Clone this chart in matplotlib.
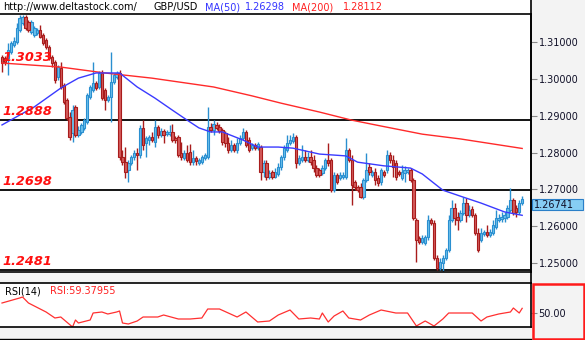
import matplotlib
matplotlib.use("Agg")
import matplotlib.pyplot as plt
import matplotlib.transforms as mtransforms
import numpy as np
from matplotlib.lines import Line2D
from matplotlib.patches import Rectangle

# GBP/USD candles, one per bar
opens = [
    1.3059, 1.3057, 1.3057, 1.3073, 1.3092, 1.3100, 1.3133, 1.3152, 1.3168, 1.3154,
    1.3127, 1.3119, 1.3124, 1.3133, 1.3119, 1.3105, 1.3086, 1.3059, 1.3046, 1.3005,
    1.3029, 1.2983, 1.2943, 1.2896, 1.2853, 1.2924, 1.2848, 1.2856, 1.2867, 1.2883,
    1.2951, 1.2970, 1.2989, 1.2978, 1.3016, 1.2970, 1.2943, 1.2951, 1.2991, 1.3005,
    1.3016, 1.2788, 1.2774, 1.2753, 1.2772, 1.2788, 1.2799, 1.2793, 1.2867, 1.2826,
    1.2834, 1.2842, 1.2829, 1.2869, 1.2848, 1.2858, 1.2850, 1.2850, 1.2856, 1.2839,
    1.2842, 1.2799, 1.2785, 1.2799, 1.2801, 1.2774, 1.2785, 1.2772, 1.2774, 1.2785,
    1.2788, 1.2869, 1.2861, 1.2875, 1.2869, 1.2861, 1.2853, 1.2826, 1.2807, 1.2821,
    1.2807, 1.2826, 1.2839, 1.2856, 1.2834, 1.2812, 1.2821, 1.2812, 1.2815, 1.2747,
    1.2772, 1.2734, 1.2747, 1.2734, 1.2742, 1.2761, 1.2788, 1.2807, 1.2826, 1.2831,
    1.2842, 1.2772, 1.2780, 1.2788, 1.2780, 1.2788, 1.2780, 1.2758, 1.2753, 1.2745,
    1.2758, 1.2780, 1.2780, 1.2698, 1.2739, 1.2731, 1.2734, 1.2734, 1.2807, 1.2780,
    1.2720, 1.2707, 1.2707, 1.2679, 1.2725, 1.2761, 1.2739, 1.2747, 1.2731, 1.2720,
    1.2747, 1.2753, 1.2793, 1.2780, 1.2772, 1.2747, 1.2731, 1.2745, 1.2747, 1.2753,
    1.2725, 1.2617, 1.2568, 1.2557, 1.2555, 1.2571, 1.2617, 1.2609, 1.2514, 1.2487,
    1.2500, 1.2514, 1.2536, 1.2617, 1.2650, 1.2625, 1.2617, 1.2636, 1.2663, 1.2630,
    1.2647, 1.2630, 1.2582, 1.2563, 1.2579, 1.2584, 1.2576, 1.2582, 1.2598, 1.2617,
    1.2620, 1.2622, 1.2625, 1.2644, 1.2671, 1.2650, 1.2639, 1.2663,
]
closes = [
    1.3043, 1.3046, 1.3078, 1.3097, 1.3103, 1.3138, 1.3165, 1.3168, 1.3138, 1.3133,
    1.3154, 1.3138, 1.3133, 1.3114, 1.3097, 1.3086, 1.3057, 1.3043, 1.2997, 1.3032,
    1.2978, 1.2937, 1.2894, 1.2842, 1.2915, 1.2848, 1.2861, 1.2875, 1.2888, 1.2956,
    1.2978, 1.2989, 1.2975, 1.3016, 1.2948, 1.2943, 1.2951, 1.2991, 1.3010, 1.3016,
    1.2788, 1.2774, 1.2747, 1.2772, 1.2788, 1.2799, 1.2793, 1.2867, 1.2821, 1.2839,
    1.2842, 1.2834, 1.2869, 1.2848, 1.2858, 1.2848, 1.2856, 1.2856, 1.2834, 1.2834,
    1.2793, 1.2788, 1.2799, 1.2780, 1.2774, 1.2785, 1.2777, 1.2780, 1.2788, 1.2793,
    1.2869, 1.2861, 1.2877, 1.2867, 1.2858, 1.2829, 1.2826, 1.2807, 1.2821, 1.2807,
    1.2826, 1.2839, 1.2856, 1.2821, 1.2807, 1.2821, 1.2812, 1.2823, 1.2747, 1.2772,
    1.2734, 1.2745, 1.2734, 1.2747, 1.2761, 1.2788, 1.2812, 1.2826, 1.2834, 1.2842,
    1.2772, 1.2785, 1.2788, 1.2780, 1.2788, 1.2774, 1.2758, 1.2739, 1.2739, 1.2758,
    1.2780, 1.2772, 1.2698, 1.2739, 1.2720, 1.2739, 1.2739, 1.2807, 1.2780, 1.2712,
    1.2707, 1.2698, 1.2679, 1.2725, 1.2753, 1.2747, 1.2747, 1.2725, 1.2717, 1.2753,
    1.2739, 1.2793, 1.2780, 1.2761, 1.2734, 1.2742, 1.2747, 1.2753, 1.2753, 1.2725,
    1.2622, 1.2563, 1.2557, 1.2568, 1.2571, 1.2617, 1.2609, 1.2514, 1.2487, 1.2503,
    1.2514, 1.2536, 1.2617, 1.2650, 1.2622, 1.2617, 1.2636, 1.2663, 1.2630, 1.2644,
    1.2630, 1.2582, 1.2536, 1.2582, 1.2584, 1.2576, 1.2584, 1.2603, 1.2622, 1.2622,
    1.2625, 1.2630, 1.2650, 1.2671, 1.2636, 1.2639, 1.2663, 1.26741,
]
highs = [
    1.3065, 1.3062, 1.3097, 1.3103, 1.3114, 1.3152, 1.3173, 1.3173, 1.3173, 1.3160,
    1.3160, 1.3143, 1.3138, 1.3146, 1.3124, 1.3111, 1.3092, 1.3065, 1.3051, 1.3038,
    1.3046, 1.2989, 1.2948, 1.2910, 1.2929, 1.2929, 1.2872, 1.2880, 1.2894, 1.2962,
    1.2983, 1.3046, 1.2994, 1.3021, 1.3024, 1.2975, 1.2956, 1.3073, 1.3016, 1.3021,
    1.3024, 1.2807, 1.2815, 1.2780, 1.2793, 1.2807, 1.2812, 1.2875, 1.2888, 1.2845,
    1.2848, 1.2856, 1.2888, 1.2875, 1.2867, 1.2864, 1.2861, 1.2875, 1.2877, 1.2845,
    1.2848, 1.2829, 1.2807, 1.2821, 1.2823, 1.2807, 1.2791, 1.2785, 1.2793, 1.2799,
    1.2924, 1.2880, 1.2888, 1.2883, 1.2877, 1.2867, 1.2858, 1.2842, 1.2834, 1.2826,
    1.2839, 1.2848, 1.2867, 1.2861, 1.2842, 1.2826, 1.2826, 1.2829, 1.2821, 1.2780,
    1.2780, 1.2753, 1.2753, 1.2758, 1.2772, 1.2793, 1.2821, 1.2848, 1.2848, 1.2853,
    1.2848, 1.2793, 1.2821, 1.2807, 1.2801, 1.2807, 1.2793, 1.2766, 1.2758, 1.2766,
    1.2785, 1.2826, 1.2785, 1.2747, 1.2745, 1.2747, 1.2747, 1.2839, 1.2812, 1.2793,
    1.2725, 1.2712, 1.2717, 1.2731, 1.2799, 1.2772, 1.2753, 1.2758, 1.2739, 1.2758,
    1.2753, 1.2807, 1.2801, 1.2793, 1.2780, 1.2753, 1.2766, 1.2763, 1.2758, 1.2758,
    1.2731, 1.2622, 1.2573, 1.2576, 1.2576, 1.2630, 1.2622, 1.2617, 1.2522, 1.2514,
    1.2522, 1.2541, 1.2630, 1.2671, 1.2663, 1.2639, 1.2644, 1.2679, 1.2677, 1.2658,
    1.2655, 1.2636, 1.2595, 1.2595, 1.2590, 1.2603, 1.2593, 1.2617, 1.2644, 1.2633,
    1.2639, 1.2639, 1.2658, 1.2704, 1.2677, 1.2658, 1.2671, 1.2682,
]
lows = [
    1.3019, 1.3038, 1.3010, 1.3067, 1.3086, 1.3095, 1.3127, 1.3146, 1.3133, 1.3127,
    1.3122, 1.3114, 1.3119, 1.3111, 1.3092, 1.3081, 1.3051, 1.3032, 1.2989, 1.2997,
    1.2972, 1.2932, 1.2888, 1.2834, 1.2829, 1.2842, 1.2842, 1.2850, 1.2861, 1.2877,
    1.2945, 1.2964, 1.2970, 1.2972, 1.2943, 1.2915, 1.2937, 1.2883, 1.2986, 1.2999,
    1.2780, 1.2766, 1.2731, 1.2720, 1.2766, 1.2780, 1.2753, 1.2785, 1.2807, 1.2788,
    1.2821, 1.2829, 1.2815, 1.2839, 1.2842, 1.2826, 1.2845, 1.2845, 1.2829, 1.2826,
    1.2788, 1.2780, 1.2780, 1.2774, 1.2766, 1.2766, 1.2766, 1.2766, 1.2769, 1.2780,
    1.2783, 1.2856, 1.2848, 1.2861, 1.2853, 1.2821, 1.2815, 1.2799, 1.2801, 1.2801,
    1.2799, 1.2821, 1.2834, 1.2815, 1.2801, 1.2807, 1.2807, 1.2807, 1.2725, 1.2734,
    1.2725, 1.2728, 1.2728, 1.2731, 1.2736, 1.2753, 1.2780, 1.2801, 1.2821, 1.2826,
    1.2758, 1.2766, 1.2774, 1.2774, 1.2774, 1.2766, 1.2747, 1.2734, 1.2734, 1.2739,
    1.2753, 1.2763, 1.2693, 1.2693, 1.2715, 1.2725, 1.2728, 1.2728, 1.2774, 1.2658,
    1.2698, 1.2693, 1.2677, 1.2674, 1.2720, 1.2739, 1.2734, 1.2712, 1.2709, 1.2712,
    1.2734, 1.2745, 1.2772, 1.2734, 1.2725, 1.2736, 1.2725, 1.2720, 1.2742, 1.2720,
    1.2617, 1.2503, 1.2552, 1.2552, 1.2549, 1.2563, 1.2603, 1.2508, 1.2481, 1.2481,
    1.2476, 1.2508, 1.2530, 1.2612, 1.2603, 1.2590, 1.2612, 1.2630, 1.2612, 1.2625,
    1.2625, 1.2576, 1.2530, 1.2557, 1.2573, 1.2571, 1.2571, 1.2576, 1.2593, 1.2612,
    1.2612, 1.2612, 1.2620, 1.2639, 1.2630, 1.2625, 1.2633, 1.2658,
]

# moving averages, sampled at bar numbers
ma50_bar = [0, 11, 20, 26, 32, 40, 46, 52, 58, 63, 67, 71, 75, 82, 87, 94, 99,
            108, 117, 121, 130, 139, 143, 150, 157, 163, 171, 177]
ma50_val = [1.2875, 1.2924, 1.2975, 1.3002, 1.3016, 1.3016, 1.2978, 1.2948, 1.2915,
            1.2888, 1.2867, 1.2856, 1.2856, 1.2834, 1.2815, 1.2815, 1.2812, 1.2796,
            1.2791, 1.2774, 1.2764, 1.2758, 1.2742, 1.2698, 1.2679, 1.2663, 1.2639,
            1.26298]
ma200_bar = [0, 20, 35, 51, 72, 85, 95, 108, 119, 129, 143, 156, 177]
ma200_val = [1.3043, 1.3032, 1.3016, 1.3002, 1.2978, 1.2954, 1.2934, 1.2910, 1.2888,
             1.2872, 1.2850, 1.2837, 1.28112]

levels = [1.3033, 1.2888, 1.2698, 1.2481]
drawn_levels = [1.2888, 1.2698, 1.2481]
price_ticks = [1.25, 1.26, 1.27, 1.28, 1.29, 1.30, 1.31]

rsi_bar = [0, 6, 7, 9, 15, 18, 20, 24, 25, 26, 30, 31, 34, 36, 39, 40, 41, 43, 46, 48,
           53, 55, 60, 64, 68, 70, 74, 80, 83, 87, 91, 94, 98, 101, 105, 108, 109, 111,
           113, 116, 118, 122, 125, 129, 134, 138, 141, 144, 147, 150, 152, 156, 160,
           163, 165, 169, 173, 174, 176, 177]
rsi_val = [70, 80, 82, 70, 52, 40, 42, 22, 36, 30, 36, 50, 52, 48, 52, 54, 30, 28, 34,
           42, 42, 46, 38, 38, 40, 58, 58, 42, 52, 32, 34, 46, 56, 38, 40, 38, 50, 32,
           44, 54, 40, 36, 46, 56, 50, 50, 24, 34, 24, 38, 50, 50, 50, 34, 42, 48, 52,
           60, 50, 59.37955]

W, H = 585, 340
BULL_FILL, BULL_EDGE = "#6cc0ec", "#2a8fd0"
BEAR_FILL, BEAR_EDGE = "#d35a5a", "#a81c1c"


def fx(px):
    return px / W


def fy(py):
    return 1 - py / H


fig = plt.figure(figsize=(W / 100, H / 100), dpi=100, facecolor="#f3f3f3")
fig.add_artist(Rectangle((0, fy(14)), fx(531), 14 / H, transform=fig.transFigure,
                         facecolor="white", edgecolor="none", zorder=0))

ax = fig.add_axes([0, fy(272), fx(531), (272 - 14) / H])
ax.set_facecolor("white")

o = np.array(opens)
c = np.array(closes)
hi = np.array(highs)
lo = np.array(lows)
bars = np.arange(len(o))
bull = c >= o
for mask, fill, edge in [(bull, BULL_FILL, BULL_EDGE), (~bull, BEAR_FILL, BEAR_EDGE)]:
    ax.vlines(bars[mask], lo[mask], hi[mask], color=edge, lw=1.0, zorder=2)
    body = np.maximum(np.abs(c[mask] - o[mask]), 0.00012)
    ax.bar(bars[mask], body, bottom=np.minimum(o[mask], c[mask]), width=0.8,
           facecolor=fill, edgecolor=edge, linewidth=0.8, zorder=3)

ax.plot(ma200_bar, ma200_val, color="#ff2a2a", lw=1.0, zorder=4)
ax.plot(ma50_bar, ma50_val, color="#3a3aff", lw=1.0, zorder=4)

for lvl in drawn_levels:
    ax.axhline(lvl, color="black", lw=1.3, zorder=1)
for lvl in levels:
    ax.annotate(f"{lvl:.4f}", xy=(0, lvl), xycoords=("axes fraction", "data"),
                xytext=(2, 4), textcoords="offset points", fontsize=9.3,
                fontweight="bold", fontstyle="italic", color="#ff1010",
                va="baseline", ha="left", zorder=5)

ax.set_xlim(-0.68, 180.0)
ax.set_ylim(1.2476, 1.3176)
ax.set_xticks([])
ax.yaxis.tick_right()
ax.set_yticks(price_ticks)
ax.set_yticklabels([f"{t:.5f}" for t in price_ticks])
ax.tick_params(axis="y", direction="out", length=4, width=0.8, color="#888888",
               labelsize=7, pad=1.5, labelcolor="#101028")
ax.spines["left"].set_visible(False)
for side in ["top", "right", "bottom"]:
    ax.spines[side].set_linewidth(1.2)
    ax.spines[side].set_color("black")

# last price tag
last = closes[-1]
tag_tf = mtransforms.blended_transform_factory(fig.transFigure, ax.transData)
ax.add_artist(Rectangle((fx(532), last - 0.00300), fx(51), 0.00300, transform=tag_tf,
                        facecolor="#86cdf3", edgecolor="#2a7fc8", lw=0.8, clip_on=False,
                        zorder=6))
ax.text(fx(534), last - 0.00150, f"{last:.5f}", transform=tag_tf, fontsize=7,
        va="center", ha="left", color="#101028", clip_on=False, zorder=7)

# header
fig.text(fx(3), fy(7), "http://www.deltastock.com/", fontsize=7, va="center", color="black")
fig.text(fx(153), fy(7), "GBP/USD", fontsize=7, va="center", color="black")
fig.text(fx(205), fy(7), "MA(50)", fontsize=7, va="center", color="#3333ff")
fig.text(fx(245), fy(7), f"{ma50_val[-1]:.5f}", fontsize=7, va="center", color="#3333ff")
fig.text(fx(292), fy(7), "MA(200)", fontsize=7, va="center", color="#ff2020")
fig.text(fx(343), fy(7), f"{ma200_val[-1]:.5f}", fontsize=7, va="center", color="#ff2020")

# RSI panel
rx = fig.add_axes([0, fy(327), fx(531), (327 - 283) / H])
rx.set_facecolor("white")
rx.plot(rsi_bar, rsi_val, color="#ff3030", lw=0.9)
rx.set_xlim(-0.68, 180.0)
rx.set_ylim(22, 110)
rx.set_xticks([])
rx.yaxis.tick_right()
rx.set_yticks([50])
rx.set_yticklabels(["50.00"])
rx.tick_params(axis="y", direction="out", length=4, width=0.8, color="#888888",
               labelsize=7, pad=1.5, labelcolor="#101028")
rx.spines["left"].set_visible(False)
for side in ["top", "right", "bottom"]:
    rx.spines[side].set_linewidth(1.2)
    rx.spines[side].set_color("black")
fig.text(fx(5), fy(291), "RSI(14)", fontsize=7, va="center", color="black")
fig.text(fx(50), fy(291), f"RSI:{rsi_val[-1]:.5f}", fontsize=7, va="center", color="#ff2020")

# frame lines and RSI scale box
fig.add_artist(Line2D([fx(531), fx(531)], [fy(0), fy(283)], transform=fig.transFigure,
                      color="black", lw=1.2))
fig.add_artist(Line2D([0, fx(531)], [fy(339), fy(339)], transform=fig.transFigure,
                      color="black", lw=1.0))
fig.add_artist(Rectangle((fx(532.5), fy(339)), fx(51.5), 55.5 / H, transform=fig.transFigure,
                         facecolor="none", edgecolor="#ff1a1a", lw=1.8))

fig.savefig("out.png", dpi=100, facecolor=fig.get_facecolor())
